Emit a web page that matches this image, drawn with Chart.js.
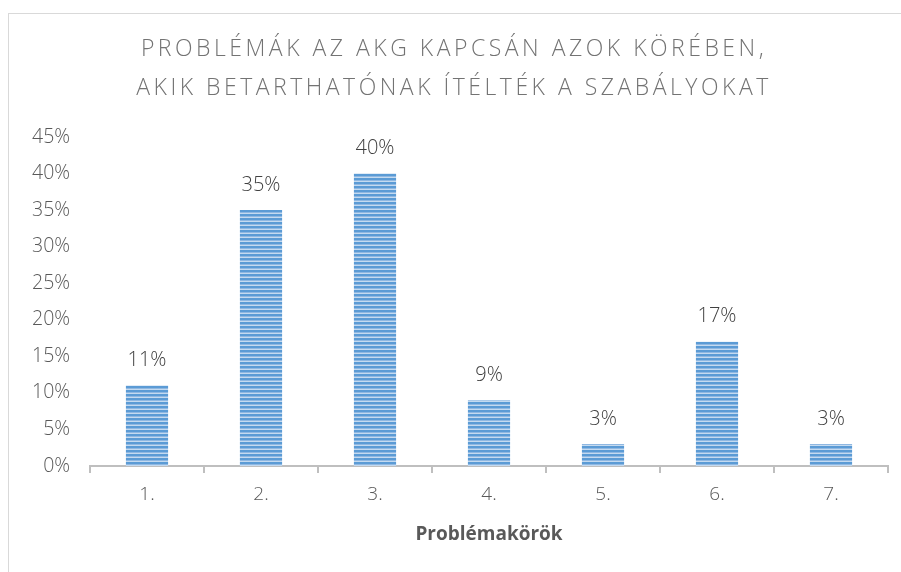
<!DOCTYPE html>
<html><head><meta charset="utf-8">
<script src="https://cdn.jsdelivr.net/npm/chart.js@4.4.0/dist/chart.umd.min.js"></script>
<style>
html,body{margin:0;padding:0;background:#fff;width:901px;height:572px;overflow:hidden}
#frame{position:absolute;left:8px;top:13px;width:893px;height:559px;border-left:1px solid #d9d9d9;border-top:1px solid #d9d9d9;box-sizing:border-box}
#wrap{position:absolute;left:1px;top:1px;width:892px;height:558px}
</style></head>
<body>
<div id="frame"><div id="wrap"><canvas id="c"></canvas></div></div>
<script>
const titleLines = ["PROBLÉMÁK AZ AKG KAPCSÁN AZOK KÖRÉBEN,", "AKIK BETARTHATÓNAK ÍTÉLTÉK A SZABÁLYOKAT"];
const categories = ["1.", "2.", "3.", "4.", "5.", "6.", "7."];
const values = [11, 35, 40, 9, 3, 17, 3];
const yTicks = [0, 5, 10, 15, 20, 25, 30, 35, 40, 45];
const xTitle = "Problémakörök";

const FONT = "'Open Sans', sans-serif";

function makePattern() {
  const p = document.createElement('canvas');
  p.width = 8; p.height = 4;
  const g = p.getContext('2d');
  g.fillStyle = '#5b9bd5'; g.fillRect(0,0,8,4);
  g.fillStyle = '#8fb8e2'; g.fillRect(0,1,8,1);
  g.fillStyle = '#c4daf0'; g.fillRect(0,2,8,1);
  return document.getElementById('c').getContext('2d').createPattern(p,'repeat');
}

const titlePlugin = {
  id: 'spacedTitle',
  afterDraw(chart) {
    const ctx = chart.ctx;
    ctx.save();
    ctx.font = "300 23px " + FONT;
    ctx.fillStyle = '#737373';
    ctx.textAlign = 'center';
    ctx.textBaseline = 'middle';
    ctx.letterSpacing = '3.5px';
    const cx = chart.width / 2 - 2;
    ctx.fillText(titleLines[0], cx, 34);
    ctx.fillText(titleLines[1], cx, 73);
    ctx.restore();
  }
};

const labelPlugin = {
  id: 'barLabels',
  afterDatasetsDraw(chart) {
    const ctx = chart.ctx;
    const meta = chart.getDatasetMeta(0);
    ctx.save();
    ctx.font = "300 20px " + FONT;
    ctx.fillStyle = '#404040';
    ctx.textAlign = 'center';
    ctx.textBaseline = 'middle';
    meta.data.forEach((bar, i) => {
      ctx.fillText(values[i] + '%', bar.x, bar.y - 25);
    });
    ctx.restore();
  }
};

new Chart(document.getElementById('c'), {
  type: 'bar',
  data: {
    labels: categories,
    datasets: [{
      data: values,
      backgroundColor: makePattern(),
      borderWidth: 0,
      categoryPercentage: 1,
      barPercentage: 0.37
    }]
  },
  options: {
    responsive: true,
    maintainAspectRatio: false,
    animation: false,
    layout: { padding: { top: 122, right: 14, left: 0, bottom: 0 } },
    plugins: { legend: { display: false }, tooltip: { enabled: false }, title: { display: false } },
    scales: {
      y: {
        min: 0, max: 45,
        afterBuildTicks(scale) { scale.ticks = yTicks.map(v => ({ value: v })); },
        afterFit(scale) { scale.width = 80; },
        grid: { display: false, drawTicks: false },
        border: { display: false },
        ticks: {
          padding: 20,
          color: '#595959',
          font: { family: FONT, size: 19.5, weight: 300 },
          callback: v => v + '%'
        }
      },
      x: {
        afterFit(scale) { scale.height = 107; },
        grid: { display: true, drawOnChartArea: false, drawTicks: true, tickLength: 7, color: '#bfbfbf', lineWidth: 2, offset: true },
        border: { display: true, color: '#bfbfbf', width: 2 },
        ticks: { padding: 10, color: '#595959', font: { family: FONT, size: 19, weight: 300 } },
        title: { display: true, text: xTitle, color: '#595959', font: { family: FONT, size: 19, weight: 'bold' }, padding: { top: 0, bottom: 27 } }
      }
    }
  },
  plugins: [titlePlugin, labelPlugin]
});
</script>
</body></html>
